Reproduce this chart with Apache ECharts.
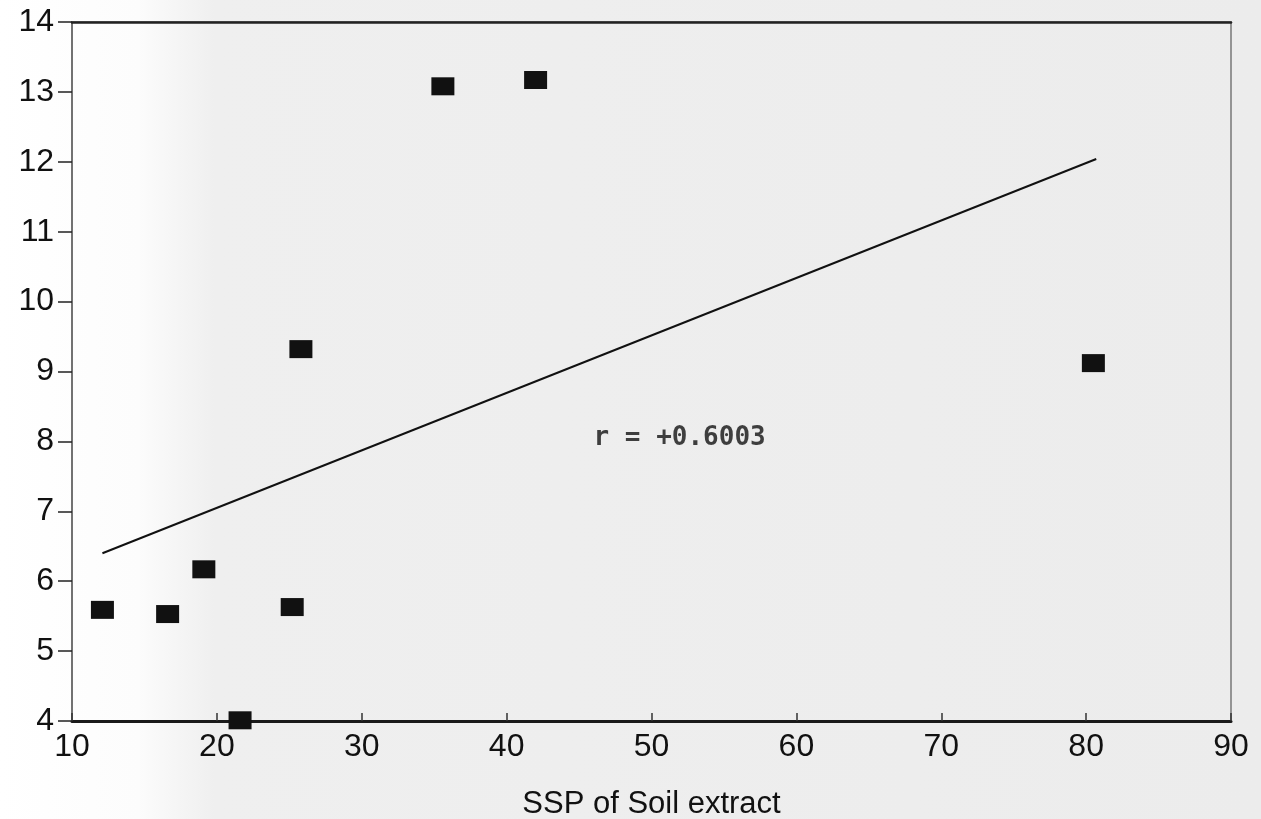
<!DOCTYPE html>
<html>
<head>
<meta charset="utf-8">
<script src="https://cdn.jsdelivr.net/npm/echarts@6/dist/echarts.min.js"></script>
<style>
  html, body { margin: 0; padding: 0; }
  #chart { width: 1261px; height: 819px; }
</style>
</head>
<body>
<div id="chart"></div>
<script>
var sspX = [12.1, 16.6, 19.1, 21.6, 25.2, 25.8, 35.6, 42.0, 80.5];
var valY = [5.59, 5.53, 6.17, 4.01, 5.63, 9.32, 13.08, 13.17, 9.12];

// regression line end points
var fitX = [12.1, 80.7];
var fitY = [6.40, 12.04];

var rLabel = 'r = +0.6003';
var rPos = [46.0, 8.05];

var xTicks = [10, 20, 30, 40, 50, 60, 70, 80, 90];
var yTicks = [4, 5, 6, 7, 8, 9, 10, 11, 12, 13, 14];

var points = sspX.map(function (x, i) { return [x, valY[i]]; });
var fit = fitX.map(function (x, i) { return [x, fitY[i]]; });

var myChart = echarts.init(document.getElementById('chart'));
var option = {
  animation: false,
  backgroundColor: {
    type: 'linear', x: 0, y: 0, x2: 1, y2: 0,
    colorStops: [
      { offset: 0, color: '#ffffff' },
      { offset: 0.11, color: '#fcfcfc' },
      { offset: 0.17, color: '#efefef' },
      { offset: 1, color: '#ececec' }
    ]
  },
  textStyle: { fontFamily: 'Liberation Sans' },
  grid: {
    left: 72, right: 30, top: 22, bottom: 98,
    outerBoundsMode: 'none',
    show: true,
    borderColor: '#777',
    borderWidth: 1.5
  },
  xAxis: [{
    type: 'value',
    min: xTicks[0],
    max: xTicks[xTicks.length - 1],
    interval: 10,
    name: 'SSP of Soil extract',
    nameLocation: 'middle',
    nameGap: 68,
    nameTextStyle: { fontSize: 31, color: '#111' },
    splitLine: { show: false },
    axisLine: { lineStyle: { color: '#1a1a1a', width: 3 } },
    axisTick: { inside: true, length: 8, lineStyle: { color: '#333', width: 1.5 } },
    axisLabel: { fontSize: 32, color: '#111', margin: 10 }
  }, {
    type: 'value',
    position: 'top',
    min: xTicks[0],
    max: xTicks[xTicks.length - 1],
    splitLine: { show: false },
    axisLine: { lineStyle: { color: '#222', width: 2.5 } },
    axisTick: { show: false },
    axisLabel: { show: false }
  }],
  yAxis: {
    type: 'value',
    min: yTicks[0],
    max: yTicks[yTicks.length - 1],
    interval: 1,
    splitLine: { show: false },
    axisLine: { lineStyle: { color: '#666', width: 1.5 } },
    axisTick: { length: 14, lineStyle: { color: '#222', width: 1.5 } },
    axisLabel: { fontSize: 32, color: '#111', margin: 18 }
  },
  series: [
    {
      type: 'line',
      data: fit,
      symbol: 'none',
      lineStyle: { color: '#111', width: 2 },
      z: 2
    },
    {
      type: 'scatter',
      data: points,
      symbol: 'rect',
      symbolSize: [23, 18],
      itemStyle: { color: '#111', opacity: 1 },
      z: 3
    },
    {
      type: 'scatter',
      data: [rPos],
      symbolSize: 0,
      label: {
        show: true,
        position: 'right',
        distance: 0,
        formatter: rLabel,
        fontFamily: 'DejaVu Sans Mono',
        fontWeight: 'bold',
        fontSize: 26,
        color: '#111'
      },
      z: 4
    }
  ]
};
myChart.setOption(option);
</script>
</body>
</html>
